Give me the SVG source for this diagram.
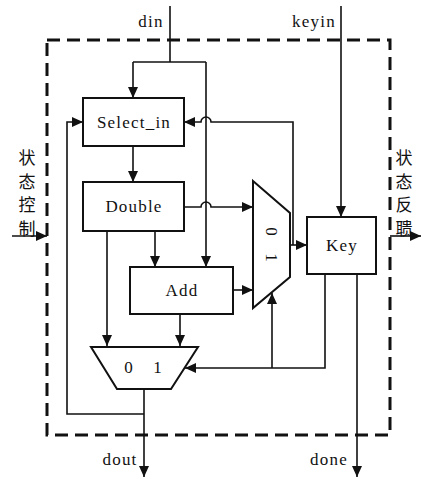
<svg xmlns="http://www.w3.org/2000/svg" width="421" height="479" viewBox="0 0 421 479">
<defs>
<marker id="ah" markerUnits="userSpaceOnUse" markerWidth="11" markerHeight="10" refX="11" refY="5" orient="auto">
<path d="M0,0 L11,5 L0,10 z" fill="#111"/>
</marker>
<style>
.box{fill:#fff;stroke:#111;stroke-width:2}
.ln{fill:none;stroke:#111;stroke-width:1.6}
.t{font-size:17px;letter-spacing:1.2px;fill:#111;text-anchor:middle}
.cj{font-size:17px;fill:#111;text-anchor:middle}
</style>
</defs>
<rect x="0" y="0" width="421" height="479" fill="#fff"/>
<rect x="47" y="40" width="343" height="395" fill="none" stroke="#111" stroke-width="3" stroke-dasharray="13,7"/>
<g id="connectors">
<path class="ln" d="M170,6 V62"/>
<path class="ln" d="M133,62 H206"/>
<path class="ln" d="M133,62 V98" marker-end="url(#ah)"/>
<path class="ln" d="M206,62 V267" marker-end="url(#ah)"/>
<path class="ln" d="M341,6 V217" marker-end="url(#ah)"/>
<path class="ln" d="M133,146 V182" marker-end="url(#ah)"/>
<path class="ln" d="M293,245 V122 H211 A5,5 0 0 0 201,122 H184" marker-end="url(#ah)"/>
<path class="ln" d="M184,207 H201 A5,5 0 0 1 211,207 H253" marker-end="url(#ah)"/>
<path class="ln" d="M155,231 V267" marker-end="url(#ah)"/>
<path class="ln" d="M107,231 V346" marker-end="url(#ah)"/>
<path class="ln" d="M180,314 V346" marker-end="url(#ah)"/>
<path class="ln" d="M233,290 H253" marker-end="url(#ah)"/>
<path class="ln" d="M290,245 H307" marker-end="url(#ah)"/>
<path class="ln" d="M325,274 V368 H185" marker-end="url(#ah)"/>
<path class="ln" d="M272,368 V293" marker-end="url(#ah)"/>
<path class="ln" d="M357,274 V477" marker-end="url(#ah)"/>
<path class="ln" d="M144,389 V477" marker-end="url(#ah)"/>
<path class="ln" d="M144,414 H67 V122 H83" marker-end="url(#ah)"/>
<path class="ln" d="M12,236 H47" marker-end="url(#ah)"/>
<path class="ln" d="M390,236 H421" marker-end="url(#ah)"/>
</g>
<g font-family="'Liberation Serif', 'Times New Roman', serif">
<g id="select_in">
<rect class="box" x="83" y="98" width="101" height="48"/>
<text class="t" x="134" y="128">Select_in</text>
</g>
<g id="double">
<rect class="box" x="83" y="182" width="101" height="49"/>
<text class="t" x="134" y="212">Double</text>
</g>
<g id="add">
<rect class="box" x="130" y="267" width="103" height="47"/>
<text class="t" x="182" y="296">Add</text>
</g>
<g id="key">
<rect class="box" x="307" y="217" width="69" height="57"/>
<text class="t" x="342" y="251">Key</text>
</g>
<g id="mux2">
<path class="box" d="M253,181 L290,213 L290,277 L253,308 Z"/>
<text class="t" transform="translate(266,232) rotate(90)" x="0" y="0">0</text>
<text class="t" transform="translate(266,258) rotate(90)" x="0" y="0">1</text>
</g>
<g id="mux1">
<path class="box" d="M91,347 L198,347 L171,389 L117,389 Z"/>
<text class="t" x="129" y="373">0</text>
<text class="t" x="158" y="373">1</text>
</g>
<g id="labels">
<text class="t" x="151" y="27">din</text>
<text class="t" x="314" y="27">keyin</text>
<text class="t" x="120" y="465">dout</text>
<text class="t" x="329" y="465">done</text>
</g>
</g>
<g id="side-labels" font-family="'Noto Sans CJK SC', sans-serif">
<text class="cj" x="27" y="164">状</text>
<text class="cj" x="27" y="188">态</text>
<text class="cj" x="27" y="211">控</text>
<text class="cj" x="27" y="235">制</text>
<text class="cj" x="404" y="164">状</text>
<text class="cj" x="404" y="188">态</text>
<text class="cj" x="404" y="211">反</text>
<text class="cj" x="404" y="235">聩</text>
</g>
</svg>
